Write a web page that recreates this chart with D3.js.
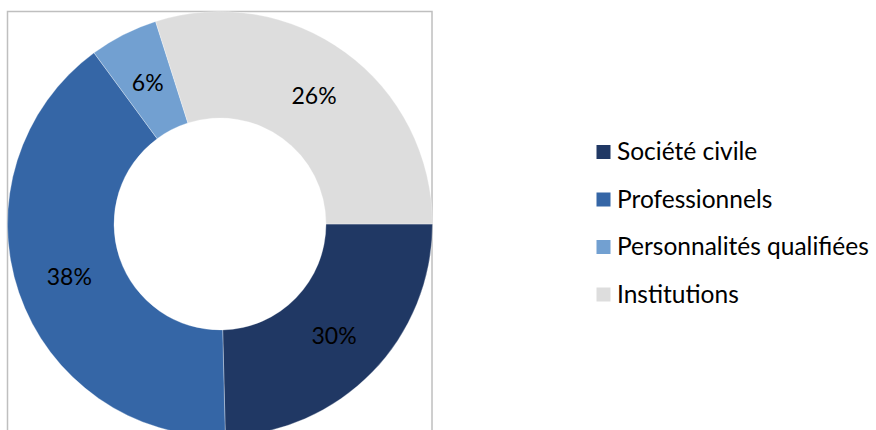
<!DOCTYPE html>
<html>
<head>
<meta charset="utf-8">
<script src="https://cdn.jsdelivr.net/npm/d3@7/dist/d3.min.js"></script>
<style>
  html, body { margin: 0; padding: 0; background: #fff; }
  svg { display: block; }
  text { font-family: Lato, "Open Sans", sans-serif; fill: #000; }
</style>
</head>
<body>
<svg id="chart" width="876" height="430"></svg>
<script>
// Data
const categories = ["Société civile", "Professionnels", "Personnalités qualifiées", "Institutions"];
const values = [24.6, 40.3, 5.2, 29.9];          // slice sizes as drawn
const valueLabels = ["30%", "38%", "6%", "26%"]; // labels printed on slices
const colors = ["#203864", "#3566A6", "#72A0D1", "#DDDDDD"];

const svg = d3.select("#chart");
const cx = 220, cy = 224, rOuter = 212.5, rInner = 106;

// Frame
svg.append("rect")
  .attr("x", 7.5).attr("y", 11.5)
  .attr("width", 424.5).attr("height", 440)
  .attr("fill", "none").attr("stroke", "#BFBFBF").attr("stroke-width", 1.5);

const data = categories.map((c, i) => ({ name: c, value: values[i], label: valueLabels[i], color: colors[i] }));

const pie = d3.pie().value(d => d.value).sort(null)
  .startAngle(Math.PI / 2).endAngle(Math.PI / 2 + 2 * Math.PI);
const arc = d3.arc().innerRadius(rInner).outerRadius(rOuter);

const g = svg.append("g").attr("transform", `translate(${cx},${cy})`);
const arcs = pie(data);

g.selectAll("path").data(arcs).join("path")
  .attr("d", arc)
  .attr("fill", d => d.data.color)
  .attr("stroke", "rgba(255,255,255,0.5)")
  .attr("stroke-width", 0.6);

g.selectAll("text.lbl").data(arcs).join("text")
  .attr("class", "lbl")
  .attr("transform", d => `translate(${arc.centroid(d)})`)
  .attr("text-anchor", "middle")
  .attr("dominant-baseline", "central")
  .style("font-size", "23px")
  .text(d => d.data.label);

// Legend
const legend = svg.append("g").attr("transform", "translate(596.5,152)");
const rowH = 47.5;
const items = legend.selectAll("g").data(data).join("g")
  .attr("transform", (d, i) => `translate(0,${i * rowH})`);
items.append("rect")
  .attr("x", 0).attr("y", -7).attr("width", 14).attr("height", 14)
  .attr("fill", d => d.color);
items.append("text")
  .attr("x", 20.5).attr("y", 8)
  .style("font-size", "24.5px")
  .text(d => d.name);
</script>
</body>
</html>
